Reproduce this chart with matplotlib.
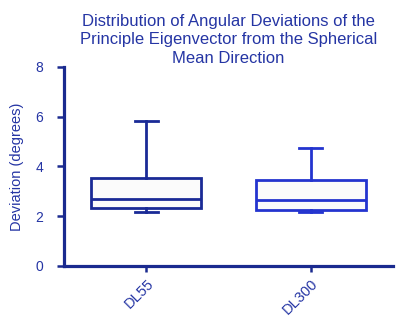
import matplotlib
matplotlib.use("Agg")
import matplotlib.pyplot as plt

plt.rcParams['font.family'] = ['Liberation Sans', 'DejaVu Sans']

categories = ["DL55", "DL300"]
whislo = [2.18, 2.15]
q1 = [2.31, 2.25]
med = [2.69, 2.66]
q3 = [3.55, 3.47]
whishi = [5.81, 4.72]
colors = ["#1a2a96", "#2434cf"]
text_color = "#2535a4"
axis_color = "#1a2a8f"

fig = plt.figure(figsize=(4.0, 3.19), dpi=100)
ax = fig.add_axes([0.16, 0.167, 0.8225, 0.623])

stats = []
for i, c in enumerate(categories):
    stats.append(dict(label=c, whislo=whislo[i], q1=q1[i], med=med[i],
                      q3=q3[i], whishi=whishi[i], fliers=[]))

for i, s in enumerate(stats):
    col = colors[i]
    ax.bxp([s], positions=[i], widths=0.67, patch_artist=True, showfliers=False,
           boxprops=dict(facecolor="#fbfbfb", edgecolor=col, linewidth=2.0),
           medianprops=dict(color=col, linewidth=2.0),
           whiskerprops=dict(color=col, linewidth=2.0),
           capprops=dict(color=col, linewidth=2.0),
           capwidths=0.14)

ax.set_xlim(-0.5, 1.5)
ax.set_ylim(0, 8)
ax.set_yticks([0, 2, 4, 6, 8])
ax.set_xticks([0, 1])
ax.set_xticklabels(categories, rotation=45, ha="right", rotation_mode="anchor")

for sp in ["top", "right"]:
    ax.spines[sp].set_visible(False)
for sp in ["left", "bottom"]:
    ax.spines[sp].set_color(axis_color)
    ax.spines[sp].set_linewidth(2.3)

ax.tick_params(axis="both", colors=axis_color, labelcolor=text_color,
               width=1.8, labelsize=10)
ax.tick_params(axis="y", length=5, pad=10)
ax.tick_params(axis="x", length=4, pad=4)
for lbl in ax.get_xticklabels():
    lbl.set_fontsize(10.5)

ax.set_ylabel("Deviation (degrees)", color=text_color, fontsize=10.5, labelpad=8)
ax.set_title("Distribution of Angular Deviations of the\nPrinciple Eigenvector from the Spherical\nMean Direction",
             color=text_color, fontsize=12, linespacing=1.3, pad=3)

fig.savefig("out.png", dpi=100)
